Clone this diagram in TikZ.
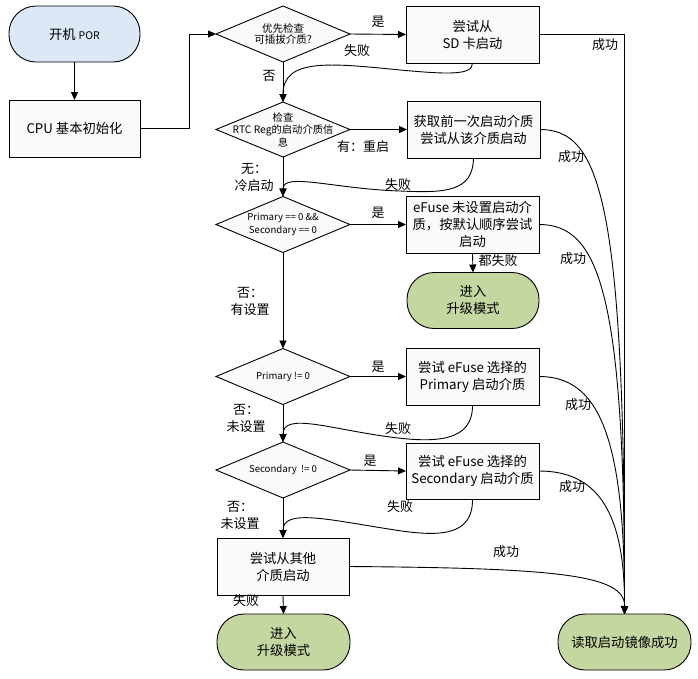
\documentclass[tikz,border=0pt]{standalone}
\usepackage{fontspec}
\setmainfont{Noto Sans CJK SC}
\usetikzlibrary{arrows.meta,shapes.geometric}
\definecolor{boxfill}{HTML}{FAFAFA}
\definecolor{startblue}{HTML}{DCE8F5}
\definecolor{termgreen}{HTML}{C5D7A0}
\newcommand{\fsz}[2]{\fontsize{#1}{#2}\selectfont}
\tikzset{
  every node/.style={inner sep=0pt, outer sep=0pt},
  boxnode/.style={draw, fill=boxfill, line width=0.9pt, minimum width=133pt, minimum height=57pt, align=center, font=\fsz{13.3}{17}},
  termnode/.style={draw, fill=termgreen, line width=0.9pt, rounded corners=27pt, minimum width=133pt, minimum height=56pt, align=center, font=\fsz{13.3}{17}},
  decnode/.style={diamond, draw, fill=boxfill, line width=0.9pt, minimum width=134pt, minimum height=56pt},
  dectext/.style={align=center},
  lbl/.style={font=\fsz{13}{17}, align=center},
  conn/.style={line width=0.9pt},
  arr/.style={conn, -{Triangle[length=8pt,width=7pt]}},
}
\begin{document}
\begin{tikzpicture}[x=1pt,y=-1pt]
\useasboundingbox (0,0) rectangle (698,678);
% nodes
\node[termnode, fill=startblue, minimum width=131pt] (start) at (74.5,34) {开机\ {\fsz{10.5}{12}POR}};
\node[boxnode, minimum width=131pt] (cpu) at (74.5,128.5) {CPU 基本初始化};
\node[decnode, label={[dectext, font=\fsz{10.5}{11.5}]center:优先检查\\可插拔介质?}] (d1) at (283,34) {};
\node[boxnode] (b1) at (472.5,34.5) {尝试从\\SD 卡启动};
\node[decnode, minimum height=55pt, label={[dectext, font=\fsz{10.3}{12.5}]center:检查\\RTC Reg的启动介质信\\息}] (d2) at (283,129.5) {};
\node[boxnode] (b2) at (473.5,129.5) {获取前一次启动介质\\尝试从该介质启动};
\node[decnode, label={[dectext, font=\fsz{9.6}{13}]center:Primary == 0 \&\&\\Secondary == 0}] (d3) at (283,224.5) {};
\node[boxnode] (b3) at (472.5,224.5) {eFuse 未设置启动介\\质，按默认顺序尝试\\启动};
\node[termnode, minimum width=132pt] (up1) at (473,300.5) {进入\\升级模式};
\node[decnode, label={[dectext, font=\fsz{9.6}{13}]center:Primary != 0}] (d4) at (283,376.5) {};
\node[boxnode] (b4) at (472.5,376.5) {尝试 eFuse 选择的\\Primary 启动介质};
\node[decnode, label={[dectext, font=\fsz{9.6}{13}]center:Secondary\ \ != 0}] (d5) at (283,470) {};
\node[boxnode, minimum height=56pt] (b5) at (472.5,471) {尝试 eFuse 选择的\\Secondary 启动介质};
\node[boxnode, minimum width=132pt] (b6) at (283,566.5) {尝试从其他\\介质启动};
\node[termnode] (up2) at (283.5,642) {进入\\升级模式};
\node[termnode] (ok) at (624.5,642) {读取启动镜像成功};
% straight connectors
\draw[arr] (start) -- (cpu);
\draw[arr] (cpu.east) -- ++(49,0) |- (d1.west);
\draw[arr] (d1.east) -- (b1.west);
\draw[arr] (b1.east) -| (ok.north);
\draw[arr] (d1.south) -- (d2.north);
\draw[arr] (d2.east) -- (b2.west);
\draw[arr] (d2.south) -- (d3.north);
\draw[arr] (d3.east) -- (b3.west);
\draw[arr] (b3.south) -- (up1.north);
\draw[arr] (d3.south) -- (d4.north);
\draw[arr] (d4.east) -- (b4.west);
\draw[arr] (d4.south) -- (d5.north);
\draw[arr] (d5.east) -- (b5.west);
\draw[arr] (d5.south) -- (b6.north);
\draw[arr] (b6.south) -- (up2.north);
% fail curves
\draw[arr] (b1.south) .. controls (473,76) and (445,74) .. (400,70) .. controls (330,63) and (283,58) .. (d2.north);
\draw[arr] (b2.south) .. controls (473,192) and (445,193) .. (400,191) .. controls (335,189) and (283,172) .. (d3.north);
\draw[arr] (b4.south) .. controls (473,442) and (435,443) .. (390,437) .. controls (330,429) and (283,412) .. (d5.north);
\draw[arr] (b5.south) .. controls (473,536) and (440,537) .. (395,530) .. controls (330,520) and (283,508) .. (b6.north);
% success curves
\draw[arr] (b2.east) .. controls (600,129.5) and (625,200) .. (ok.north);
\draw[arr] (b3.east) .. controls (598,224.5) and (625,290) .. (ok.north);
\draw[arr] (b4.east) .. controls (596,376.5) and (625,430) .. (ok.north);
\draw[arr] (b5.east) .. controls (596,471) and (625,510) .. (ok.north);
\draw[arr] (b6.east) .. controls (560,568) and (625,575) .. (ok.north);
% labels
\node[lbl] (l1) at (378,22) {是};
\node[lbl] (l2) at (605,45) {成功};
\node[lbl] (l3) at (357,51) {失败};
\node[lbl] (l4) at (269,76) {否};
\node[lbl] (l5) at (363,147) {有：重启};
\node[lbl] (l6) at (571,157) {成功};
\node[lbl] (l7) at (398,185) {失败};
\node[lbl] (l8) at (254,178) {无：\\冷启动};
\node[lbl] (l9) at (378,213) {是};
\node[lbl] (l10) at (498,261) {都失败};
\node[lbl] (l11) at (573,259) {成功};
\node[lbl] (l12) at (250,301) {否：\\有设置};
\node[lbl] (l13) at (378,367) {是};
\node[lbl] (l14) at (578,405) {成功};
\node[lbl] (l15) at (398,429) {失败};
\node[lbl] (l16) at (246,418) {否：\\未设置};
\node[lbl] (l17) at (370,461) {是};
\node[lbl] (l18) at (572,487) {成功};
\node[lbl] (l19) at (400,507) {失败};
\node[lbl] (l20) at (240,515) {否：\\未设置};
\node[lbl] (l21) at (506,552) {成功};
\node[lbl] (l22) at (246,601) {失败};
\end{tikzpicture}
\end{document}
